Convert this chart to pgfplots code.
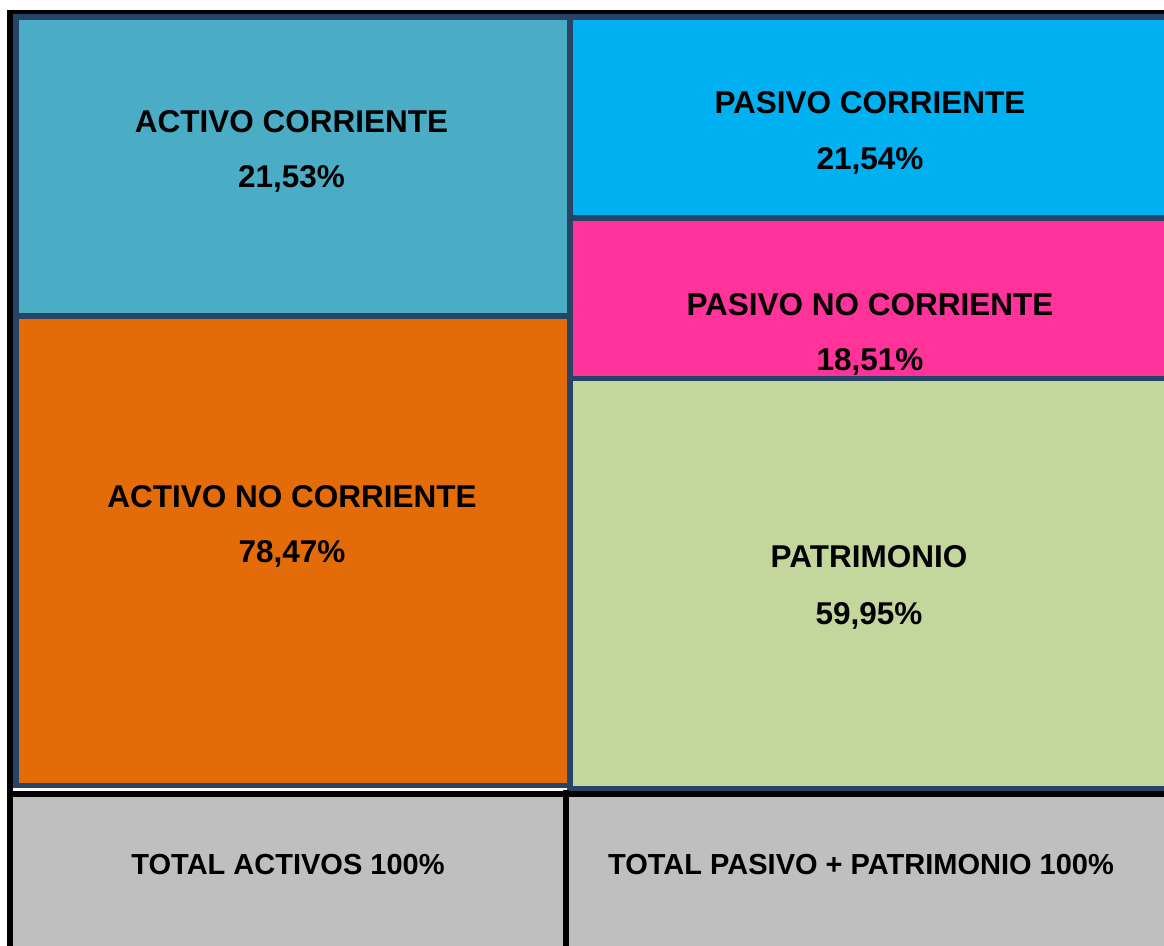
\documentclass[border=0pt]{standalone}
\usepackage{pgfplots}
\pgfplotsset{compat=1.18}
\usepackage{fontspec}
\setmainfont{Liberation Sans}
\definecolor{bord}{HTML}{274365}
\definecolor{cAC}{HTML}{4BACC6}
\definecolor{cPC}{HTML}{00B0F0}
\definecolor{cPNC}{HTML}{FF3399}
\definecolor{cANC}{HTML}{E36C09}
\definecolor{cPAT}{HTML}{C3D69B}
\definecolor{cTOT}{HTML}{BFBFBF}
\begin{document}
\begin{tikzpicture}
\begin{axis}[
  scale only axis, width=1164bp, height=946bp,
  xmin=0, xmax=1164, ymin=0, ymax=946, y dir=reverse,
  hide axis, clip=true,
  every axis plot/.append style={line join=miter},
]
% background
\addplot[fill=white, draw=none] coordinates {(0,0) (1164,0) (1164,946) (0,946)} -- cycle;
% bottom gray row
\addplot[fill=cTOT, draw=none] coordinates {(10,793) (1180,793) (1180,960) (10,960)} -- cycle;
% cells
\addplot[fill=cAC, draw=bord, line width=5.6bp] coordinates {(15.8,16.8) (570,16.8) (570,316) (15.8,316)} -- cycle;
\addplot[fill=cANC, draw=bord, line width=5.6bp] coordinates {(15.8,316) (570,316) (570,785.5) (15.8,785.5)} -- cycle;
\addplot[fill=cPC, draw=bord, line width=5.6bp] coordinates {(570,16.8) (1180,16.8) (1180,218) (570,218)} -- cycle;
\addplot[fill=cPNC, draw=bord, line width=5.6bp] coordinates {(570,218) (1180,218) (1180,378.5) (570,378.5)} -- cycle;
\addplot[fill=cPAT, draw=bord, line width=5.6bp] coordinates {(570,378.5) (1180,378.5) (1180,788.3) (570,788.3)} -- cycle;
% black frame lines
\addplot[black, line width=4bp] coordinates {(7,12) (1180,12)};
\addplot[black, line width=6bp] coordinates {(10,10) (10,960)};
\addplot[black, line width=6bp] coordinates {(7,793.5) (1180,793.5)};
\addplot[black, line width=6bp] coordinates {(566,790) (566,960)};
% labels
\begin{scope}[every node/.style={anchor=base, font=\fontsize{31.5bp}{36bp}\selectfont\bfseries, text=black, inner sep=0pt}]
\node at (axis cs:291.5,133) {ACTIVO CORRIENTE};
\node at (axis cs:291.5,188) {21,53\%};
\node at (axis cs:870,114) {PASIVO CORRIENTE};
\node at (axis cs:870,170) {21,54\%};
\node at (axis cs:870,315) {PASIVO NO CORRIENTE};
\node at (axis cs:870,370) {18,51\%};
\node at (axis cs:292,507) {ACTIVO NO CORRIENTE};
\node at (axis cs:292,562) {78,47\%};
\node at (axis cs:869,567) {PATRIMONIO};
\node at (axis cs:869,624) {59,95\%};
\end{scope}
\begin{scope}[every node/.style={anchor=base, font=\fontsize{29bp}{34bp}\selectfont\bfseries, text=black, inner sep=0pt}]
\node at (axis cs:288,874) {TOTAL ACTIVOS 100\%};
\node at (axis cs:861,874) {TOTAL PASIVO + PATRIMONIO 100\%};
\end{scope}
\end{axis}
\end{tikzpicture}
\end{document}
